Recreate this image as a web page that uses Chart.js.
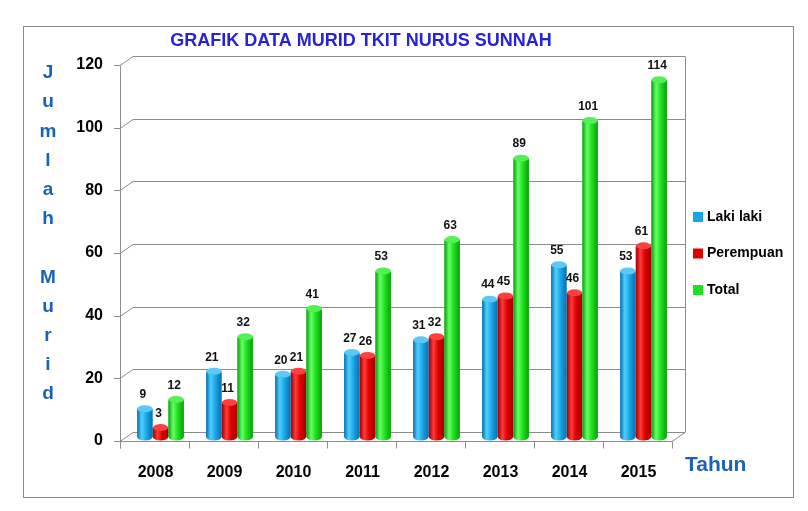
<!DOCTYPE html>
<html>
<head>
<meta charset="utf-8">
<script src="https://cdn.jsdelivr.net/npm/chart.js@4"></script>
<style>
  html, body { margin: 0; padding: 0; background: #fff; }
  #wrap { width: 808px; height: 511px; }
</style>
</head>
<body>
<div id="wrap"><canvas id="muridChart" width="808" height="511"></canvas></div>
<script>
// Data
const years = ['2008', '2009', '2010', '2011', '2012', '2013', '2014', '2015'];
const lakiLaki = [9, 21, 20, 27, 31, 44, 55, 53];
const perempuan = [3, 11, 21, 26, 32, 45, 46, 61];
const total = [12, 32, 41, 53, 63, 89, 101, 114];
const yMin = 0;
const yMax = 120;
const yStep = 20;

const chartTitle = 'GRAFIK DATA MURID TKIT NURUS SUNNAH';
const yTitle = ['J', 'u', 'm', 'l', 'a', 'h', '', 'M', 'u', 'r', 'i', 'd'];
const xTitle = 'Tahun';

// cylinder shading per series: [edge dark, mid, highlight, cap]
const shades = [
    ['#0a6fae', '#1aa6e6', '#4fd0ff', '#5cc9f5'],
    ['#9e0000', '#e00000', '#ff3a3a', '#ff4040'],
    ['#0b9e0b', '#1fe01f', '#66ff66', '#55f055']
];

// front plane is shifted from the bar plane, back wall further in
const FRONT = { dx: -6, dy: 4 };
const BACK = { dx: 7, dy: -5 };

const frame3d = {
    id: 'frame3d',
    beforeDraw(chart) {
        const ctx = chart.ctx;
        ctx.save();
        ctx.fillStyle = '#fff';
        ctx.fillRect(0, 0, chart.width, chart.height);

        // outer border
        ctx.strokeStyle = '#8a8a8a';
        ctx.lineWidth = 1;
        ctx.strokeRect(23.5, 26.5, 770, 471);

        // title
        ctx.fillStyle = '#2424d6';
        ctx.font = 'bold 18px "Liberation Sans", Arial, sans-serif';
        ctx.textAlign = 'center';
        ctx.textBaseline = 'middle';
        ctx.fillText(chartTitle, 361, 41);

        // vertical y title, one letter per line
        ctx.fillStyle = '#1a62b8';
        ctx.font = 'bold 19px "Liberation Sans", Arial, sans-serif';
        yTitle.forEach((ch, i) => {
            if (ch) ctx.fillText(ch, 48, 73 + i * 29.2);
        });

        // x title
        ctx.font = 'bold 21px "Liberation Sans", Arial, sans-serif';
        ctx.textAlign = 'left';
        ctx.fillText(xTitle, 685, 465);

        // legend
        ctx.font = 'bold 14px "Liberation Sans", Arial, sans-serif';
        chart.data.datasets.forEach((ds, i) => {
            const ly = 217 + i * 36.5;
            ctx.fillStyle = shades[i][1];
            ctx.fillRect(693, ly - 5, 10, 10);
            ctx.fillStyle = '#000';
            ctx.fillText(ds.label, 707, ly);
        });
        ctx.restore();
    },
    beforeDatasetsDraw(chart) {
        const ctx = chart.ctx;
        const a = chart.chartArea;
        const yScale = chart.scales.y;
        const xScale = chart.scales.x;
        const fl = a.left + FRONT.dx, fr = a.right + FRONT.dx;
        const bl = a.left + BACK.dx, br = a.right + BACK.dx;
        const dxb = BACK.dx - FRONT.dx, dyb = BACK.dy - FRONT.dy;
        ctx.save();
        ctx.strokeStyle = '#8c8c8c';
        ctx.lineWidth = 1;
        ctx.beginPath();
        yScale.ticks.forEach(t => {
            const yf = Math.round(yScale.getPixelForValue(t.value) + FRONT.dy) + 0.5;
            ctx.moveTo(fl - 6, yf);
            ctx.lineTo(fl, yf);
            ctx.lineTo(bl, yf + dyb);
            ctx.lineTo(br, yf + dyb);
        });
        const yTop = Math.round(yScale.getPixelForValue(yMax) + FRONT.dy) + 0.5;
        const yBot = Math.round(yScale.getPixelForValue(yMin) + FRONT.dy) + 0.5;
        // left front edge
        ctx.moveTo(fl + 0.5, yTop);
        ctx.lineTo(fl + 0.5, yBot + 7);
        // right back edge
        ctx.moveTo(br + 0.5, yTop + dyb);
        ctx.lineTo(br + 0.5, yBot + dyb);
        // floor front edge
        ctx.moveTo(fl, yBot);
        ctx.lineTo(fr, yBot);
        ctx.lineTo(fr + dxb, yBot + dyb);
        // category tick marks on the floor
        for (let i = 0; i <= years.length; i++) {
            const px = Math.round(xScale.getPixelForValue(i - 0.5) + FRONT.dx) + 0.5;
            ctx.moveTo(px, yBot);
            ctx.lineTo(px, yBot + 7);
        }
        ctx.stroke();
        ctx.restore();
    },
    afterDatasetsDraw(chart) {
        const ctx = chart.ctx;
        ctx.save();
        chart.data.datasets.forEach((ds, di) => {
            const meta = chart.getDatasetMeta(di);
            const sh = shades[di];
            meta.data.forEach((el, i) => {
                const p = el.getProps(['x', 'y', 'base', 'width'], true);
                const rx = p.width / 2;
                const ry = 3.5;
                const g = ctx.createLinearGradient(p.x - rx, 0, p.x + rx, 0);
                g.addColorStop(0, sh[0]);
                g.addColorStop(0.3, sh[2]);
                g.addColorStop(0.6, sh[1]);
                g.addColorStop(1, sh[0]);
                ctx.fillStyle = g;
                ctx.beginPath();
                ctx.moveTo(p.x - rx, p.y);
                ctx.lineTo(p.x - rx, p.base);
                ctx.ellipse(p.x, p.base, rx, ry, 0, Math.PI, 0, true);
                ctx.lineTo(p.x + rx, p.y);
                ctx.ellipse(p.x, p.y, rx, ry, 0, 0, Math.PI, false);
                ctx.closePath();
                ctx.fill();
                // top cap
                ctx.fillStyle = sh[3];
                ctx.beginPath();
                ctx.ellipse(p.x, p.y, rx, ry, 0, 0, Math.PI * 2);
                ctx.fill();
                // value label
                ctx.fillStyle = '#111';
                ctx.font = 'bold 12px "Liberation Sans", Arial, sans-serif';
                ctx.textAlign = 'center';
                ctx.textBaseline = 'middle';
                ctx.fillText(String(ds.data[i]), p.x - 2, p.y - 14);
            });
        });
        ctx.restore();
    }
};

const ctx = document.getElementById('muridChart').getContext('2d');
new Chart(ctx, {
    type: 'bar',
    data: {
        labels: years,
        datasets: [
            { label: 'Laki laki', data: lakiLaki, backgroundColor: shades[0][1] },
            { label: 'Perempuan', data: perempuan, backgroundColor: shades[1][1] },
            { label: 'Total', data: total, backgroundColor: shades[2][1] }
        ]
    },
    options: {
        responsive: false,
        animation: false,
        layout: { padding: { left: 0, right: 130, top: 61, bottom: 34 } },
        datasets: {
            bar: { categoryPercentage: 0.68, barPercentage: 0.98 }
        },
        plugins: {
            legend: { display: false },
            title: { display: false },
            tooltip: { enabled: false }
        },
        scales: {
            x: {
                grid: { display: false },
                border: { display: false },
                ticks: {
                    color: '#000',
                    font: { family: '"Liberation Sans", Arial, sans-serif', size: 16, weight: 'bold' },
                    padding: 18,
                    labelOffset: -5,
                    maxRotation: 0
                },
                afterFit(scale) { scale.height = 40; }
            },
            y: {
                min: yMin,
                max: yMax,
                grid: { display: false },
                border: { display: false },
                ticks: {
                    stepSize: yStep,
                    color: '#000',
                    font: { family: '"Liberation Sans", Arial, sans-serif', size: 16, weight: 'bold' },
                    padding: 15,
                    labelOffset: 4
                },
                afterFit(scale) { scale.width = 126; }
            }
        }
    },
    plugins: [frame3d]
});
</script>
</body>
</html>
